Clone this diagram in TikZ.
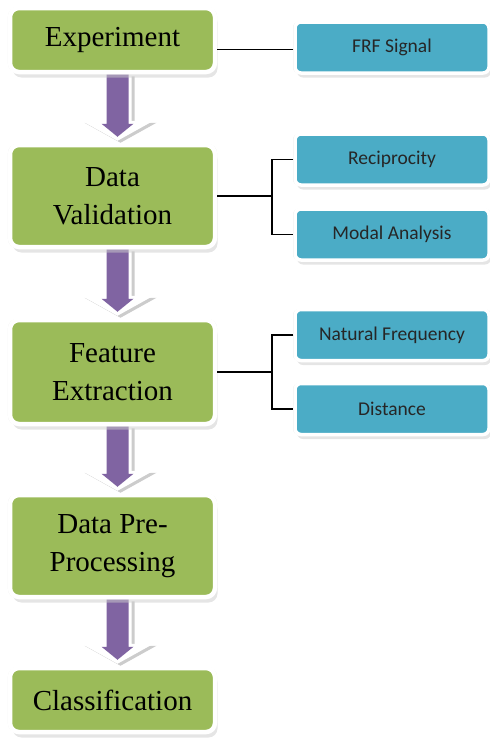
\documentclass[tikz,border=0pt]{standalone}
\usepackage{fontspec}
\usetikzlibrary{calc,shadows,backgrounds}
\newfontfamily\boxserif{Liberation Serif}
\newfontfamily\boxsans{Carlito}
\definecolor{stepgreen}{HTML}{9BBB59}
\definecolor{itemblue}{HTML}{4BACC6}
\definecolor{flowpurple}{HTML}{8064A2}
% shaft half width, head half width, head base and tip offset above the next box
\newcommand{\blockarrow}[4]{(\x1-#1,\y1) -- (\x1-#1,\y2+#3) -- (\x1-#2,\y2+#3) -- (\x1,\y2+#4)
  -- (\x1+#2,\y2+#3) -- (\x1+#1,\y2+#3) -- (\x1+#1,\y1) -- cycle}
\tikzset{
  greenbox/.style={draw=white, line width=4.5pt, fill=stepgreen, rounded corners=9pt,
    minimum width=205pt, align=center, inner sep=0pt,
    font=\boxserif\fontsize{29}{38}\selectfont,
    general shadow={shadow scale=1.02, fill=gray!18},
    drop shadow={shadow xshift=2.5pt, shadow yshift=-5.5pt, fill=gray!40}},
  bluebox/.style={draw=white, line width=3.5pt, fill=itemblue, rounded corners=6pt,
    minimum width=194pt, minimum height=51pt, inner sep=0pt, text=black!85,
    font=\boxsans\fontsize{19.5}{22}\selectfont,
    general shadow={shadow scale=1.02, fill=gray!18},
    drop shadow={shadow xshift=2pt, shadow yshift=-4.5pt, fill=gray!40}},
  branch/.style={line width=1.2pt, black}
}
\begin{document}
\begin{tikzpicture}[x=1pt,y=-1pt]
  \useasboundingbox (0,0) rectangle (490,740);
  % main steps
  \node[greenbox, minimum height=64pt]  (exp) at (112.5,40)  {Experiment};
  \node[greenbox, minimum height=102pt] (val) at (112.5,196) {Data\\Validation};
  \node[greenbox, minimum height=104pt] (fea) at (112.5,372) {Feature\\Extraction};
  \node[greenbox, minimum height=102pt] (pre) at (112.5,546) {Data Pre-\\Processing};
  \node[greenbox, minimum height=64pt]  (cla) at (112.5,700) {Classification};
  % details
  \node[bluebox] (frf) at (392,47.5)  {FRF Signal};
  \node[bluebox] (rec) at (392,159.5) {Reciprocity};
  \node[bluebox] (mod) at (392,234.5) {Modal Analysis};
  \node[bluebox] (nat) at (392,335)   {Natural Frequency};
  \node[bluebox] (dis) at (392,409)   {Distance};
  \coordinate (brk) at (272,0);
  % connectors
  \draw[branch] ([yshift=-2pt]frf.west) -- ([yshift=-2pt]frf.west -| exp.east);
  \draw[branch] (val.east) -- (val.east -| brk);
  \draw[branch] (rec.west) -| (brk |- mod) -- (mod.west);
  \draw[branch] (fea.east) -- (fea.east -| brk);
  \draw[branch] (nat.west) -| (brk |- dis) -- (dis.west);
  % arrows between the steps
  \begin{scope}[on background layer]
    \foreach \a/\b in {exp/val,val/fea,fea/pre,pre/cla}{
      \fill[gray!40] let \p1=([xshift=8pt,yshift=-2pt]\a.south), \p2=([xshift=3pt,yshift=-2pt]\b.north) in
        \blockarrow{14pt}{36pt}{22pt}{2pt};
      \fill[white] let \p1=([xshift=5pt]\a.south), \p2=(\b.north) in
        \blockarrow{14pt}{36pt}{22pt}{2pt};
      \fill[flowpurple] let \p1=([xshift=5pt]\a.south), \p2=(\b.north) in
        \blockarrow{11pt}{16pt}{19pt}{6pt};
    }
  \end{scope}
\end{tikzpicture}
\end{document}
